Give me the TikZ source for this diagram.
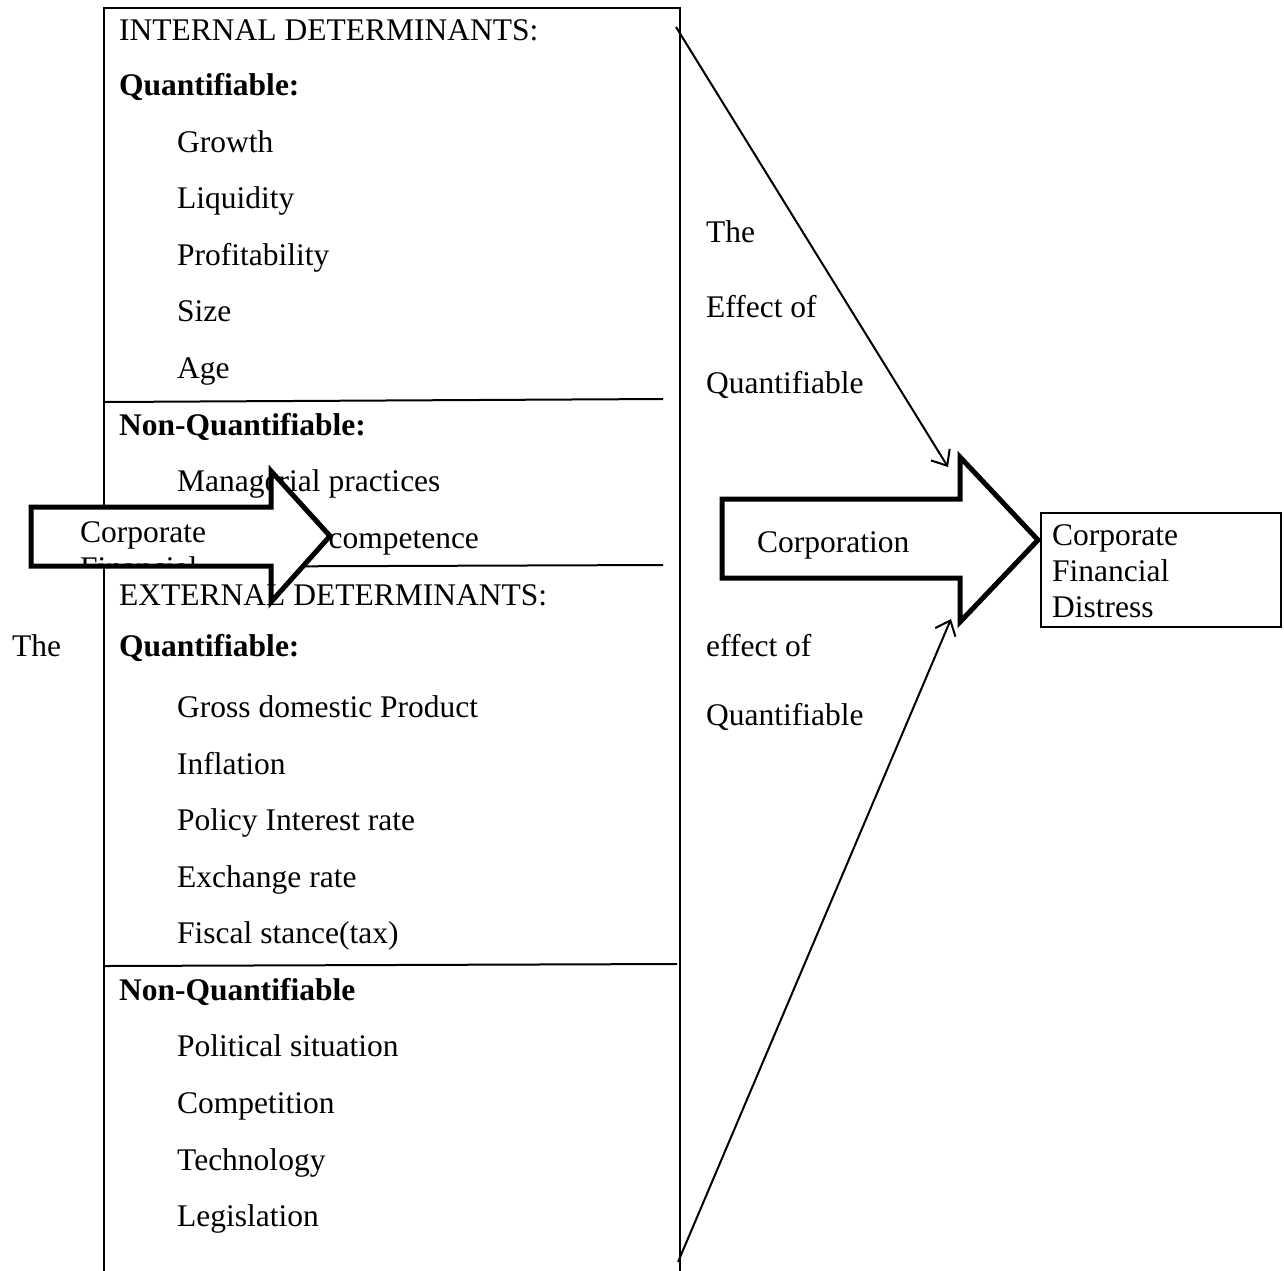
\documentclass[tikz,border=0pt]{standalone}
\usepackage{fontspec}
\setmainfont{Liberation Serif}
\usetikzlibrary{arrows.meta}
\tikzset{
  lbl/.style={anchor=base west, inner sep=0pt, font=\fontsize{31.5}{36}\selectfont},
  hdr/.style={lbl, font=\fontsize{31.5}{36}\selectfont\bfseries},
  thin/.style={line width=2pt},
  bigarrow/.style={line width=5pt, miter limit=10, fill=white, draw=black},
  pointer/.style={line width=2pt, -{Straight Barb[length=13pt,width=22pt,line width=2pt]}},
}
\begin{document}
\begin{tikzpicture}[x=1pt,y=-1pt]
\useasboundingbox (0,0) rectangle (1284,1270);
% frame of the list
\draw[thin] (104,1272) -- (104,8) -- (680,8) -- (680,1272);
\draw[thin] (105,402) -- (663,399);
\draw[thin] (105,567) -- (663,565);
\draw[thin] (105,966) -- (677,964);
% list texts
\node[lbl] (t1) at (119,40) {INTERNAL DETERMINANTS:};
\node[hdr] (t2) at (119,95) {Quantifiable:};
\node[lbl] (t3) at (177,152) {Growth};
\node[lbl] (t4) at (177,208) {Liquidity};
\node[lbl] (t5) at (177,265) {Profitability};
\node[lbl] (t6) at (177,321) {Size};
\node[lbl] (t7) at (177,378) {Age};
\node[hdr] (t8) at (119,435) {Non-Quantifiable:};
\node[lbl] (t9) at (177,491) {Managerial practices};
\node[lbl] (t10) at (177,548) {Managerial competence};
\node[hdr] (t12) at (119,656) {Quantifiable:};
\node[lbl] (t13) at (177,717) {Gross domestic Product};
\node[lbl] (t14) at (177,774) {Inflation};
\node[lbl] (t15) at (177,830) {Policy Interest rate};
\node[lbl] (t16) at (177,887) {Exchange rate};
\node[lbl] (t17) at (177,943) {Fiscal stance(tax)};
\node[hdr] (t18) at (119,1000) {Non-Quantifiable};
\node[lbl] (t19) at (177,1056) {Political situation};
\node[lbl] (t20) at (177,1113) {Competition};
\node[lbl] (t21) at (177,1170) {Technology};
\node[lbl] (t22) at (177,1226) {Legislation};
% side labels
\node[lbl] (l0) at (12,656) {The};
\node[lbl] (r1) at (706,242) {The};
\node[lbl] (r2) at (706,317) {Effect of};
\node[lbl] (r3) at (706,393) {Quantifiable};
\node[lbl] (r4) at (706,656) {effect of};
\node[lbl] (r5) at (706,725) {Quantifiable};
% left block arrow
\draw[bigarrow] (31,507) -- (271,507) -- (271,471) -- (330,536) -- (271,602) -- (271,566) -- (31,566) -- cycle;
\begin{scope}
\clip (34,510) rectangle (300,563);
\node[lbl] (lf) at (80,578) {Financial};
\end{scope}
\node[lbl] (la) at (80,542) {Corporate};
\node[lbl] (t11) at (119,605) {EXTERNAL DETERMINANTS:};
% right block arrow
\draw[bigarrow] (722,499) -- (960,499) -- (960,457) -- (1038,540) -- (960,622) -- (960,578) -- (722,578) -- cycle;
\node[lbl] (ra) at (757,552) {Corporation};
% result box
\node[draw, thin, anchor=north west, minimum width=240pt, minimum height=114pt, inner sep=0pt] (box) at (1040,512) {};
\node[lbl] (b1) at (1052,545) {Corporate};
\node[lbl] (b2) at (1052,581) {Financial};
\node[lbl] (b3) at (1052,617) {Distress};
% thin pointers
\coordinate (s1) at (676,27);
\coordinate (e1) at (948,467);
\coordinate (s2) at (678,1262);
\coordinate (e2) at (951,619);
\draw[pointer] (s1) -- (e1);
\draw[pointer] (s2) -- (e2);
\end{tikzpicture}
\end{document}
